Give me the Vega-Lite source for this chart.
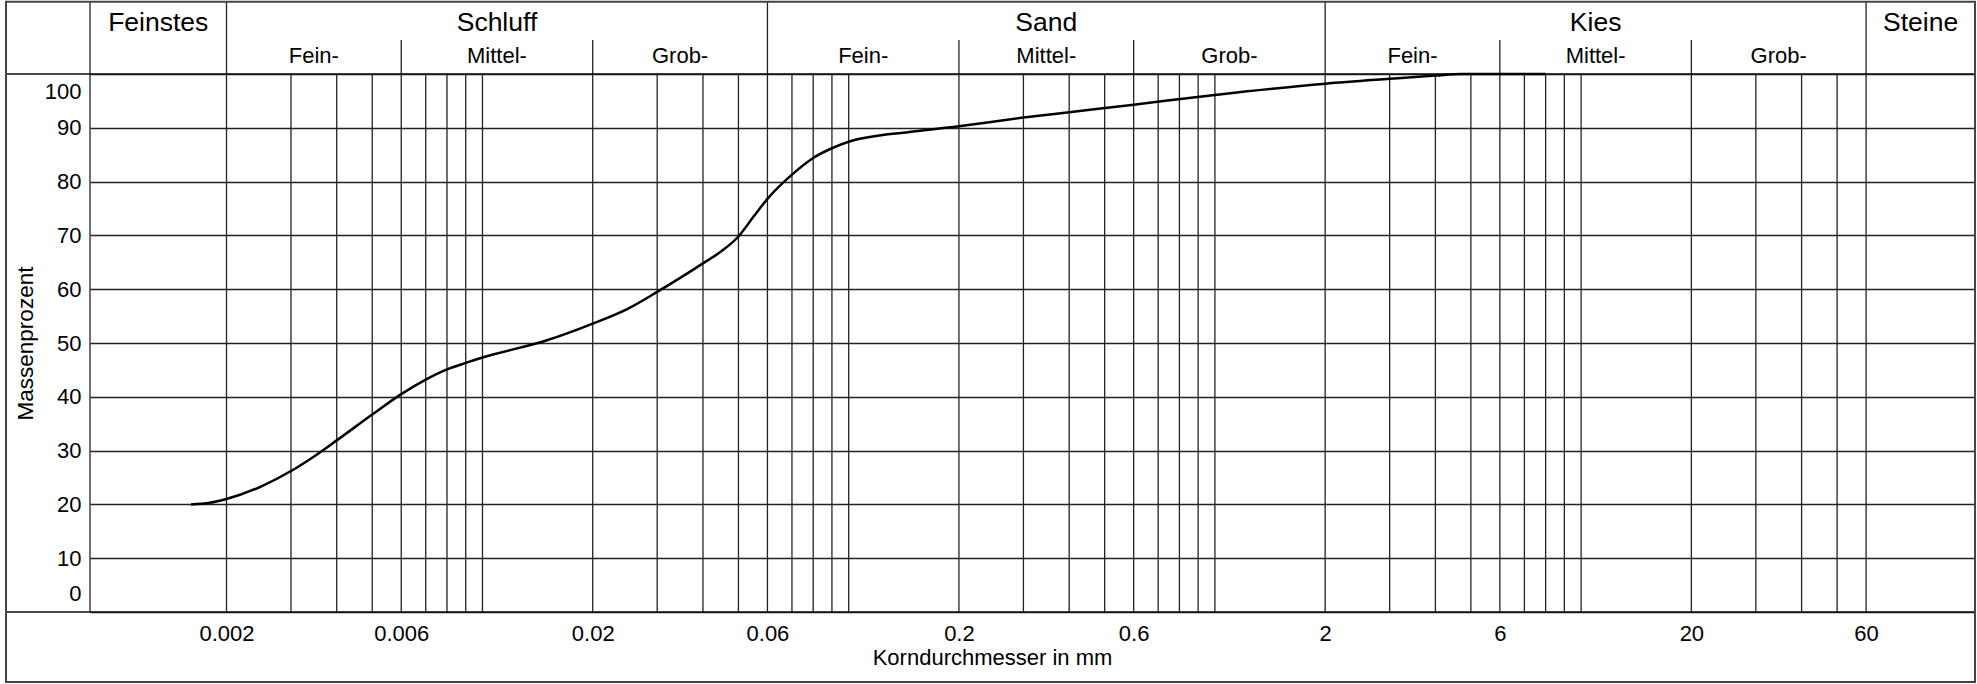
{
  "$schema": "https://vega.github.io/schema/vega-lite/v6.json",
  "width": 1885,
  "height": 538,
  "autosize": {"type": "none"},
  "padding": {"left": 90, "top": 74, "right": 2, "bottom": 72},
  "background": "white",
  "config": {"view": {"stroke": null}, "font": "Liberation Sans"},
  "datasets": {
    "curve": [
      {"d": 0.0016, "p": 20},
      {"d": 0.0018, "p": 20.3},
      {"d": 0.002, "p": 21},
      {"d": 0.0025, "p": 23.4},
      {"d": 0.003, "p": 26.2},
      {"d": 0.0035, "p": 29.1},
      {"d": 0.004, "p": 31.9},
      {"d": 0.005, "p": 36.7},
      {"d": 0.006, "p": 40.5},
      {"d": 0.007, "p": 43.2},
      {"d": 0.008, "p": 45.1},
      {"d": 0.009, "p": 46.3},
      {"d": 0.01, "p": 47.3},
      {"d": 0.015, "p": 50.5},
      {"d": 0.02, "p": 53.6},
      {"d": 0.025, "p": 56.4},
      {"d": 0.03, "p": 59.5},
      {"d": 0.04, "p": 64.8},
      {"d": 0.045, "p": 67.1},
      {"d": 0.05, "p": 69.8},
      {"d": 0.055, "p": 73.5},
      {"d": 0.06, "p": 76.8},
      {"d": 0.07, "p": 81.3},
      {"d": 0.08, "p": 84.4},
      {"d": 0.09, "p": 86.2},
      {"d": 0.1, "p": 87.4},
      {"d": 0.15, "p": 89.3},
      {"d": 0.2, "p": 90.3},
      {"d": 0.3, "p": 91.9},
      {"d": 0.4, "p": 92.9},
      {"d": 0.6, "p": 94.3},
      {"d": 1, "p": 96.1},
      {"d": 2, "p": 98.2},
      {"d": 3, "p": 99.1},
      {"d": 4, "p": 99.7},
      {"d": 4.7, "p": 100},
      {"d": 8, "p": 100}
    ],
    "grid": [
      {"d": 0.003}, {"d": 0.004}, {"d": 0.005}, {"d": 0.006}, {"d": 0.007}, {"d": 0.008}, {"d": 0.009}, {"d": 0.01},
      {"d": 0.02}, {"d": 0.03}, {"d": 0.04}, {"d": 0.05}, {"d": 0.07}, {"d": 0.08}, {"d": 0.09}, {"d": 0.1},
      {"d": 0.2}, {"d": 0.3}, {"d": 0.4}, {"d": 0.5}, {"d": 0.6}, {"d": 0.7}, {"d": 0.8}, {"d": 0.9}, {"d": 1},
      {"d": 3}, {"d": 4}, {"d": 5}, {"d": 6}, {"d": 7}, {"d": 8}, {"d": 9}, {"d": 10},
      {"d": 20}, {"d": 30}, {"d": 40}, {"d": 50}
    ],
    "groups": [
      {"name": "Feinstes", "from": 0.0008478, "to": 0.002},
      {"name": "Schluff", "from": 0.002, "to": 0.06},
      {"name": "Sand", "from": 0.06, "to": 2},
      {"name": "Kies", "from": 2, "to": 60},
      {"name": "Steine", "from": 60, "to": 119}
    ],
    "subs": [
      {"group": "Schluff", "name": "Fein-", "from": 0.002, "to": 0.006},
      {"group": "Schluff", "name": "Mittel-", "from": 0.006, "to": 0.02},
      {"group": "Schluff", "name": "Grob-", "from": 0.02, "to": 0.06},
      {"group": "Sand", "name": "Fein-", "from": 0.06, "to": 0.2},
      {"group": "Sand", "name": "Mittel-", "from": 0.2, "to": 0.6},
      {"group": "Sand", "name": "Grob-", "from": 0.6, "to": 2},
      {"group": "Kies", "name": "Fein-", "from": 2, "to": 6},
      {"group": "Kies", "name": "Mittel-", "from": 6, "to": 20},
      {"group": "Kies", "name": "Grob-", "from": 20, "to": 60}
    ]
  },
  "layer": [
    {
      "data": {"name": "grid"},
      "mark": {"type": "rule", "stroke": "#222", "strokeWidth": 1.3},
      "encoding": {
        "x": {"field": "d", "type": "quantitative"},
        "y": {"datum": 0, "type": "quantitative"},
        "y2": {"datum": 100}
      }
    },
    {
      "data": {"name": "groups"},
      "mark": {"type": "rule", "stroke": "#222", "strokeWidth": 1.3},
      "encoding": {
        "x": {"field": "from", "type": "quantitative"},
        "y": {"datum": 0, "type": "quantitative"},
        "y2": {"datum": 113.44}
      }
    },
    {
      "data": {"name": "subs"},
      "transform": [{"filter": "datum.name !== 'Fein-'"}],
      "mark": {"type": "rule", "stroke": "#222", "strokeWidth": 1.3},
      "encoding": {
        "x": {"field": "from", "type": "quantitative"},
        "y": {"datum": 100, "type": "quantitative"},
        "y2": {"datum": 106.32}
      }
    },
    {
      "data": {"values": [{}]},
      "mark": {"type": "rule", "stroke": "#111", "strokeWidth": 1.5},
      "encoding": {
        "x": {"datum": 0.0005, "type": "quantitative"},
        "x2": {"datum": 119},
        "y": {"datum": 100, "type": "quantitative"}
      }
    },
    {
      "data": {"values": [{}]},
      "mark": {"type": "rule", "stroke": "#111", "strokeWidth": 1.5},
      "encoding": {
        "x": {"datum": 0.0005, "type": "quantitative"},
        "x2": {"datum": 119},
        "y": {"datum": 0, "type": "quantitative"}
      }
    },
    {
      "data": {"values": [{}]},
      "mark": {"type": "rect", "fillOpacity": 0, "stroke": "#444", "strokeWidth": 2},
      "encoding": {
        "x": {"datum": 0.0005, "type": "quantitative"},
        "x2": {"datum": 119},
        "y": {"datum": -13.01, "type": "quantitative"},
        "y2": {"datum": 113.44}
      }
    },
    {
      "data": {"name": "groups"},
      "transform": [{"calculate": "sqrt(datum.from * datum.to)", "as": "cx"}],
      "mark": {"type": "text", "fontSize": 26.5, "align": "center", "baseline": "alphabetic", "color": "black", "font": "Liberation Sans"},
      "encoding": {
        "x": {"field": "cx", "type": "quantitative"},
        "y": {"datum": 107.99, "type": "quantitative"},
        "text": {"field": "name"}
      }
    },
    {
      "data": {"name": "subs"},
      "transform": [{"calculate": "sqrt(datum.from * datum.to)", "as": "cx"}],
      "mark": {"type": "text", "fontSize": 22, "align": "center", "baseline": "alphabetic", "color": "black", "font": "Liberation Sans"},
      "encoding": {
        "x": {"field": "cx", "type": "quantitative"},
        "y": {"datum": 102.1, "type": "quantitative"},
        "text": {"field": "name"}
      }
    },
    {
      "data": {"name": "curve"},
      "mark": {"type": "line", "color": "black", "strokeWidth": 2.5, "interpolate": "monotone"},
      "encoding": {
        "x": {
          "field": "d",
          "type": "quantitative",
          "scale": {"type": "log", "domain": [0.0008478, 119], "nice": false},
          "axis": {
            "values": [0.002, 0.006, 0.02, 0.06, 0.2, 0.6, 2, 6, 20, 60],
            "format": "~g",
            "grid": false,
            "ticks": false,
            "tickSize": 0,
            "domain": false,
            "labelFontSize": 22,
            "labelFont": "Liberation Sans",
            "labelColor": "black",
            "labelPadding": 11,
            "title": "Korndurchmesser in mm",
            "titleFont": "Liberation Sans",
            "titleFontSize": 22,
            "titleFontWeight": "normal",
            "titleColor": "black",
            "titleX": 902,
            "titleY": 45,
            "titleAlign": "center",
            "titleBaseline": "middle"
          }
        },
        "y": {
          "field": "p",
          "type": "quantitative",
          "scale": {"domain": [0, 100], "nice": false},
          "axis": {
            "values": [0, 10, 20, 30, 40, 50, 60, 70, 80, 90, 100],
            "grid": true,
            "gridColor": "#222",
            "gridWidth": 1.3,
            "gridOpacity": 1,
            "ticks": false,
            "tickSize": 0,
            "domain": false,
            "labelFontSize": 22,
            "labelFont": "Liberation Sans",
            "labelColor": "black",
            "labelPadding": 9,
            "labelFlush": true,
            "labelFlushOffset": -7,
            "title": "Massenprozent",
            "titleFont": "Liberation Sans",
            "titleFontSize": 22.5,
            "titleFontWeight": "normal",
            "titleColor": "black",
            "titleX": -65,
            "titleY": 269,
            "titleAlign": "center",
            "titleBaseline": "middle",
            "titleAngle": -90
          }
        }
      }
    }
  ]
}
